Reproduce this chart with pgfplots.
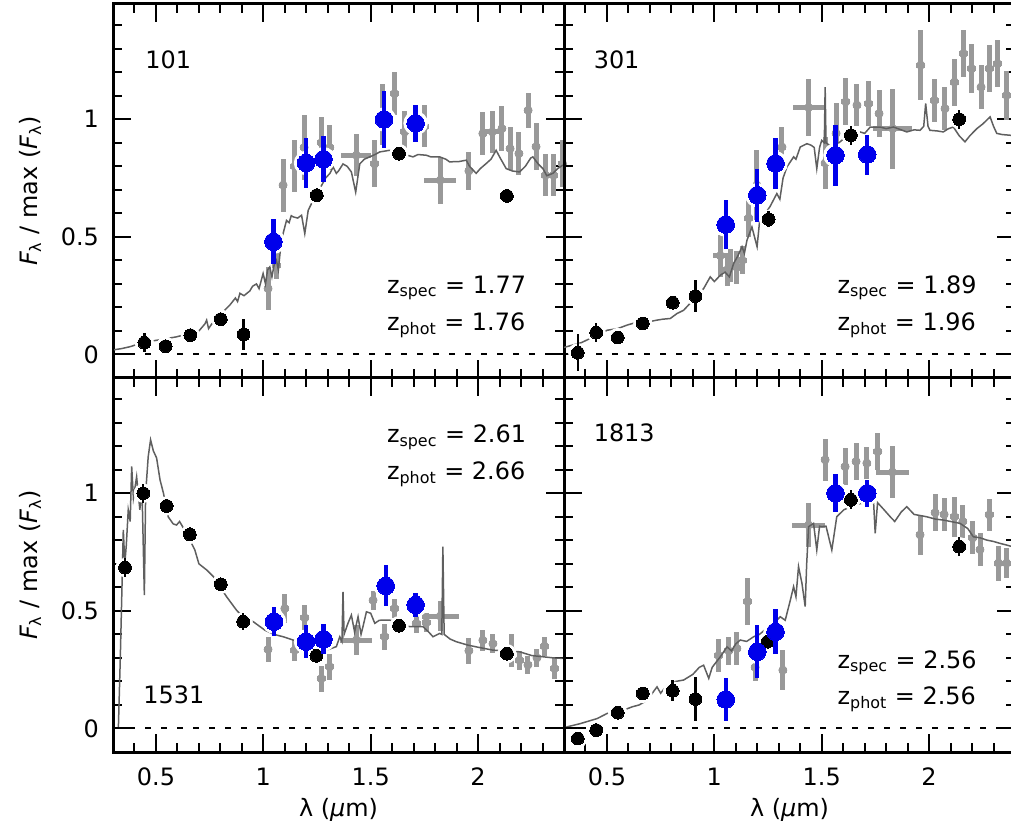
\documentclass[border=0pt]{standalone}
\usepackage{fontspec}
\setmainfont{DejaVu Sans}
\usepackage{pgfplots}
\pgfplotsset{compat=1.18}
\usepackage{pgfplotstable}
\definecolor{crossgray}{RGB}{153,153,153}
\definecolor{specgray}{RGB}{95,95,95}
\definecolor{ptblue}{RGB}{0,0,235}

% ---------------- panel 101 ----------------
\pgfplotstableread{
x y ex ey
0.446 0.050 0 0.040
0.545 0.035 0 0.020
0.660 0.082 0 0.020
0.802 0.150 0 0.020
0.908 0.085 0 0.067
1.249 0.677 0 0.030
1.632 0.854 0 0.030
2.134 0.674 0 0.020
}\blkA
\pgfplotstableread{
x y ex ey
1.047 0.479 0 0.096
1.199 0.814 0 0.107
1.280 0.830 0 0.097
1.562 0.999 0 0.123
1.709 0.983 0 0.079
}\bluA
\pgfplotstableread{
x y ex ey
1.022 0.280 0.020 0.090
1.060 0.380 0.020 0.060
1.092 0.720 0.020 0.113
1.146 0.800 0.020 0.110
1.190 0.880 0.020 0.140
1.270 0.900 0.020 0.110
1.309 0.880 0.020 0.095
1.433 0.847 0.070 0.090
1.518 0.810 0.020 0.100
1.557 1.020 0.020 0.130
1.611 1.109 0.020 0.090
1.658 0.946 0.020 0.090
1.751 0.970 0.020 0.090
1.824 0.741 0.074 0.100
1.957 0.780 0.020 0.080
2.022 0.939 0.020 0.090
2.066 0.946 0.045 0.090
2.111 0.960 0.020 0.095
2.149 0.875 0.020 0.090
2.190 0.854 0.020 0.090
2.233 1.038 0.020 0.075
2.270 0.883 0.020 0.100
2.314 0.762 0.020 0.090
2.351 0.762 0.020 0.090
2.394 0.810 0.020 0.100
}\gryA
\pgfplotstableread{
x y
0.305 0.020
0.340 0.025
0.379 0.033
0.420 0.045
0.488 0.058
0.596 0.075
0.700 0.100
0.728 0.130
0.736 0.146
0.745 0.110
0.760 0.130
0.800 0.170
0.844 0.210
0.870 0.240
0.880 0.225
0.891 0.260
0.910 0.250
0.937 0.270
0.950 0.290
0.968 0.300
0.980 0.280
0.999 0.344
1.010 0.300
1.020 0.360
1.030 0.372
1.040 0.330
1.050 0.380
1.061 0.400
1.070 0.360
1.080 0.450
1.092 0.514
1.108 0.570
1.120 0.560
1.130 0.590
1.139 0.585
1.160 0.580
1.178 0.592
1.193 0.514
1.209 0.613
1.232 0.656
1.260 0.700
1.290 0.750
1.310 0.770
1.325 0.797
1.340 0.770
1.350 0.780
1.371 0.810
1.390 0.800
1.410 0.776
1.430 0.690
1.449 0.810
1.470 0.830
1.495 0.840
1.520 0.850
1.542 0.861
1.588 0.868
1.620 0.860
1.660 0.850
1.697 0.840
1.720 0.850
1.759 0.847
1.780 0.840
1.821 0.840
1.850 0.830
1.867 0.819
1.910 0.820
1.945 0.826
1.960 0.800
1.991 0.770
2.010 0.790
2.038 0.812
2.060 0.830
2.084 0.868
2.100 0.840
2.131 0.790
2.160 0.780
2.193 0.776
2.220 0.800
2.245 0.835
2.255 0.840
2.280 0.810
2.302 0.790
2.320 0.760
2.348 0.770
2.370 0.790
2.395 0.805
}\spcA

% ---------------- panel 301 ----------------
\pgfplotstableread{
x y ex ey
0.364 0.007 0 0.078
0.450 0.093 0 0.040
0.550 0.072 0 0.020
0.667 0.132 0 0.020
0.806 0.220 0 0.020
0.912 0.248 0 0.067
1.253 0.575 0 0.035
1.636 0.932 0 0.040
2.140 1.000 0 0.040
}\blkB
\pgfplotstableread{
x y ex ey
1.053 0.552 0 0.105
1.200 0.677 0 0.112
1.285 0.812 0 0.108
1.564 0.847 0 0.130
1.712 0.850 0 0.085
}\bluB
\pgfplotstableread{
x y ex ey
1.028 0.420 0.035 0.090
1.060 0.360 0.020 0.070
1.074 0.380 0.020 0.070
1.105 0.370 0.020 0.070
1.130 0.400 0.020 0.060
1.160 0.580 0.020 0.080
1.198 0.720 0.020 0.150
1.315 0.882 0.020 0.085
1.439 1.050 0.074 0.120
1.516 0.814 0.020 0.110
1.567 0.940 0.020 0.130
1.612 1.074 0.020 0.100
1.664 1.060 0.020 0.090
1.718 1.066 0.020 0.095
1.767 1.024 0.020 0.100
1.831 0.960 0.090 0.170
1.961 1.230 0.020 0.150
2.025 1.080 0.020 0.090
2.074 1.045 0.020 0.090
2.118 1.158 0.020 0.100
2.160 1.279 0.020 0.100
2.198 1.215 0.020 0.105
2.242 1.137 0.020 0.095
2.280 1.215 0.020 0.100
2.319 1.236 0.020 0.100
2.361 1.102 0.020 0.105
}\gryB
\pgfplotstableread{
x y
0.300 0.030
0.380 0.050
0.450 0.080
0.501 0.103
0.550 0.110
0.594 0.125
0.650 0.140
0.700 0.140
0.733 0.146
0.760 0.150
0.795 0.153
0.826 0.174
0.857 0.188
0.900 0.230
0.930 0.260
0.950 0.280
0.981 0.330
1.000 0.310
1.028 0.337
1.050 0.350
1.070 0.330
1.090 0.387
1.110 0.420
1.129 0.458
1.140 0.430
1.152 0.486
1.175 0.542
1.199 0.458
1.210 0.560
1.230 0.590
1.260 0.630
1.291 0.684
1.305 0.660
1.320 0.750
1.338 0.797
1.369 0.840
1.380 0.830
1.400 0.882
1.431 0.896
1.450 0.890
1.465 0.880
1.477 0.790
1.490 0.880
1.500 0.910
1.512 0.900
1.516 1.137
1.520 0.900
1.535 0.890
1.555 0.882
1.580 0.900
1.620 0.930
1.679 0.946
1.700 0.940
1.726 0.967
1.772 0.967
1.800 0.960
1.834 0.967
1.870 0.955
1.896 0.946
1.930 0.955
1.958 0.953
1.975 0.970
1.984 1.067
1.995 0.970
2.004 0.953
2.040 0.950
2.066 0.946
2.090 0.960
2.113 0.967
2.140 0.930
2.167 0.904
2.190 0.930
2.222 0.960
2.250 0.980
2.284 1.010
2.300 0.970
2.315 0.940
2.340 0.935
2.377 0.932
2.400 0.930
}\spcB

% ---------------- panel 1531 ----------------
\pgfplotstableread{
x y ex ey
0.356 0.684 0 0.040
0.441 1.000 0 0.040
0.550 0.946 0 0.030
0.658 0.825 0 0.030
0.802 0.613 0 0.020
0.906 0.454 0 0.035
1.247 0.309 0 0.020
1.632 0.437 0 0.020
2.134 0.318 0 0.020
}\blkC
\pgfplotstableread{
x y ex ey
1.050 0.454 0 0.062
1.199 0.369 0 0.071
1.280 0.379 0 0.064
1.570 0.606 0 0.087
1.709 0.525 0 0.053
}\bluC
\pgfplotstableread{
x y ex ey
1.022 0.336 0.020 0.055
1.100 0.510 0.020 0.060
1.146 0.333 0.020 0.045
1.193 0.470 0.020 0.055
1.270 0.212 0.020 0.055
1.309 0.262 0.020 0.055
1.433 0.376 0.074 0.065
1.511 0.545 0.020 0.040
1.565 0.390 0.020 0.055
1.611 0.510 0.020 0.040
1.712 0.447 0.020 0.040
1.759 0.450 0.020 0.040
1.824 0.478 0.085 0.065
1.957 0.330 0.020 0.055
2.022 0.375 0.020 0.045
2.069 0.360 0.020 0.040
2.154 0.330 0.020 0.070
2.193 0.290 0.020 0.040
2.232 0.270 0.020 0.040
2.274 0.300 0.020 0.040
2.309 0.350 0.020 0.040
2.356 0.255 0.020 0.045
}\gryC
\pgfplotstableread{
x y
0.325 0.000
0.334 0.300
0.340 0.532
0.348 0.844
0.355 0.700
0.362 0.780
0.371 0.929
0.380 0.880
0.387 1.114
0.395 0.980
0.410 1.070
0.425 0.930
0.435 1.020
0.446 0.567
0.452 1.000
0.464 1.156
0.475 1.227
0.488 1.180
0.503 1.150
0.519 1.057
0.535 1.000
0.557 0.900
0.580 0.870
0.596 0.865
0.610 0.880
0.642 0.830
0.681 0.759
0.700 0.700
0.736 0.674
0.767 0.646
0.800 0.600
0.829 0.560
0.875 0.503
0.910 0.470
0.953 0.454
1.007 0.418
1.050 0.400
1.092 0.390
1.139 0.376
1.216 0.362
1.294 0.333
1.340 0.348
1.356 0.390
1.366 0.370
1.371 0.581
1.376 0.400
1.394 0.447
1.410 0.482
1.425 0.410
1.441 0.475
1.455 0.400
1.464 0.433
1.480 0.496
1.500 0.490
1.519 0.447
1.540 0.460
1.588 0.461
1.630 0.450
1.681 0.433
1.743 0.433
1.770 0.410
1.790 0.390
1.821 0.404
1.831 0.400
1.836 0.773
1.842 0.400
1.870 0.380
1.898 0.369
1.950 0.355
1.991 0.347
2.069 0.333
2.130 0.330
2.193 0.326
2.250 0.310
2.301 0.305
2.350 0.300
2.394 0.298
}\spcC

% ---------------- panel 1813 ----------------
\pgfplotstableread{
x y ex ey
0.364 -0.043 0 0.020
0.450 -0.007 0 0.020
0.550 0.067 0 0.020
0.667 0.149 0 0.020
0.806 0.160 0 0.045
0.912 0.125 0 0.095
1.248 0.369 0 0.020
1.636 0.972 0 0.040
2.140 0.773 0 0.040
}\blkD
\pgfplotstableread{
x y ex ey
1.053 0.123 0 0.090
1.200 0.326 0 0.113
1.285 0.411 0 0.096
1.564 1.000 0 0.080
1.712 1.000 0 0.058
}\bluD
\pgfplotstableread{
x y ex ey
1.020 0.310 0.020 0.070
1.067 0.330 0.020 0.060
1.105 0.340 0.020 0.070
1.155 0.540 0.020 0.100
1.190 0.260 0.020 0.060
1.319 0.248 0.020 0.085
1.439 0.865 0.077 0.095
1.516 1.142 0.020 0.090
1.609 1.113 0.020 0.078
1.660 1.135 0.020 0.078
1.710 1.128 0.020 0.067
1.761 1.177 0.020 0.078
1.829 1.090 0.078 0.110
1.958 0.823 0.020 0.085
2.028 0.917 0.020 0.078
2.070 0.910 0.020 0.070
2.118 0.900 0.020 0.085
2.157 0.880 0.020 0.070
2.203 0.810 0.020 0.070
2.237 0.760 0.020 0.070
2.280 0.908 0.020 0.067
2.323 0.703 0.020 0.074
2.361 0.703 0.020 0.064
}\gryD
\pgfplotstableread{
x y
0.300 0.000
0.315 0.007
0.377 0.021
0.454 0.042
0.501 0.064
0.578 0.078
0.617 0.092
0.650 0.100
0.687 0.120
0.733 0.177
0.750 0.150
0.780 0.185
0.820 0.200
0.857 0.206
0.900 0.230
0.930 0.260
0.950 0.269
0.974 0.213
0.990 0.260
1.028 0.305
1.059 0.347
1.080 0.330
1.100 0.360
1.121 0.376
1.150 0.370
1.183 0.390
1.210 0.400
1.250 0.430
1.280 0.450
1.307 0.475
1.330 0.460
1.354 0.546
1.369 0.603
1.380 0.560
1.392 0.688
1.408 0.617
1.423 0.518
1.430 0.700
1.439 0.858
1.462 0.872
1.477 0.759
1.490 0.860
1.501 0.858
1.520 0.860
1.547 0.759
1.570 0.900
1.602 0.929
1.650 0.950
1.700 0.960
1.741 0.972
1.749 0.830
1.760 0.960
1.790 0.930
1.819 0.900
1.840 0.880
1.870 0.920
1.896 0.943
1.930 0.910
1.960 0.905
1.989 0.900
2.030 0.890
2.067 0.886
2.100 0.880
2.144 0.872
2.180 0.850
2.206 0.815
2.240 0.810
2.268 0.801
2.300 0.795
2.330 0.787
2.360 0.780
2.400 0.770
}\spcD

\pgfplotsset{
  panel/.style={
    width=225.5bp, height=187bp, scale only axis,
    anchor=south west,
    xmin=0.3, xmax=2.4, ymin=-0.1, ymax=1.49,
    xtick={0.5,1,1.5,2}, minor xtick={0.3,0.4,...,2.45},
    ytick={0,0.5,1}, minor ytick={-0.1,0,...,1.45},
    tick align=inside,
    major tick length=9bp, minor tick length=4.5bp,
    every tick/.append style={black, line width=1bp},
    axis line style={line width=1.5bp},
    /pgf/number format/assume math mode=true,
    xticklabel style={yshift=-4.5bp},
    yticklabel style={xshift=-3.5bp},
    ylabel style={at={(axis description cs:-0.184,0.5)}, anchor=center},
    xlabel style={at={(axis description cs:0.5,-0.155)}, anchor=center},
    clip=true,
    clip mode=individual,
  },
}

\newcommand{\drawpanel}[4]{%
  \addplot[crossgray, only marks, mark=none,
    error bars/.cd, x dir=both, x explicit, y dir=both, y explicit,
    error bar style={crossgray, line width=2.5bp}, error mark=none]
    table[x=x, y=y, x error=ex, y error=ey] {#3};
  \addplot[specgray, line width=0.75bp, no marks] table[x=x, y=y] {#4};
  \addplot[black, line width=1bp, dash pattern=on 3bp off 5bp, no marks] coordinates {(0.3,0) (2.4,0)};
  \addplot[white, only marks, mark=*, mark size=4.6bp, mark options={draw=white, fill=white}] table[x=x, y=y] {#1};
  \addplot[white, only marks, mark=*, mark size=5.9bp, mark options={draw=white, fill=white}] table[x=x, y=y] {#2};
  \addplot[black, only marks, mark=*, mark size=3.2bp, mark options={draw=black, fill=black, line width=0pt},
    error bars/.cd, y dir=both, y explicit,
    error bar style={black, line width=1.2bp}, error mark=none]
    table[x=x, y=y, y error=ey] {#1};
  \addplot[ptblue, only marks, mark=*, mark size=4.4bp, mark options={draw=ptblue, fill=ptblue, line width=0pt},
    error bars/.cd, y dir=both, y explicit,
    error bar style={ptblue, line width=2.2bp}, error mark=none]
    table[x=x, y=y, y error=ey] {#2};
}

\begin{document}
\begin{tikzpicture}[font=\fontsize{12}{14}\selectfont]
\useasboundingbox (0,0) rectangle (505.5bp,414.5bp);
\clip (0,0) rectangle (505.5bp,414.5bp);

% top left: 101
\begin{axis}[panel, at={(56.5bp,225.5bp)}, xticklabels={},
  ylabel={{\itshape F}\textsubscript{λ} / max ({\itshape F}\textsubscript{λ})}]
\drawpanel{\blkA}{\bluA}{\gryA}{\spcA}
\node[anchor=base west, inner sep=0] at (axis cs:0.449,1.217) {101};
\node[anchor=base west, inner sep=0] at (axis cs:1.574,0.260) {z\textsubscript{spec} = 1.77};
\node[anchor=base west, inner sep=0] at (axis cs:1.574,0.103) {z\textsubscript{phot} = 1.76};
\end{axis}

% top right: 301
\begin{axis}[panel, at={(282bp,225.5bp)}, xticklabels={}, yticklabels={}]
\drawpanel{\blkB}{\bluB}{\gryB}{\spcB}
\node[anchor=base west, inner sep=0] at (axis cs:0.437,1.217) {301};
\node[anchor=base west, inner sep=0] at (axis cs:1.572,0.260) {z\textsubscript{spec} = 1.89};
\node[anchor=base west, inner sep=0] at (axis cs:1.572,0.103) {z\textsubscript{phot} = 1.96};
\end{axis}

% bottom left: 1531
\begin{axis}[panel, at={(56.5bp,38.5bp)},
  ylabel={{\itshape F}\textsubscript{λ} / max ({\itshape F}\textsubscript{λ})},
  xlabel={λ (\textit{μ}m)}]
\drawpanel{\blkC}{\bluC}{\gryC}{\spcC}
\node[anchor=base west, inner sep=0] at (axis cs:0.440,0.108) {1531};
\node[anchor=base west, inner sep=0] at (axis cs:1.574,1.214) {z\textsubscript{spec} = 2.61};
\node[anchor=base west, inner sep=0] at (axis cs:1.574,1.057) {z\textsubscript{phot} = 2.66};
\end{axis}

% bottom right: 1813
\begin{axis}[panel, at={(282bp,38.5bp)}, yticklabels={},
  xlabel={λ (\textit{μ}m)}]
\drawpanel{\blkD}{\bluD}{\gryD}{\spcD}
\node[anchor=base west, inner sep=0] at (axis cs:0.437,1.218) {1813};
\node[anchor=base west, inner sep=0] at (axis cs:1.572,0.257) {z\textsubscript{spec} = 2.56};
\node[anchor=base west, inner sep=0] at (axis cs:1.572,0.100) {z\textsubscript{phot} = 2.56};
\end{axis}
\end{tikzpicture}
\end{document}
